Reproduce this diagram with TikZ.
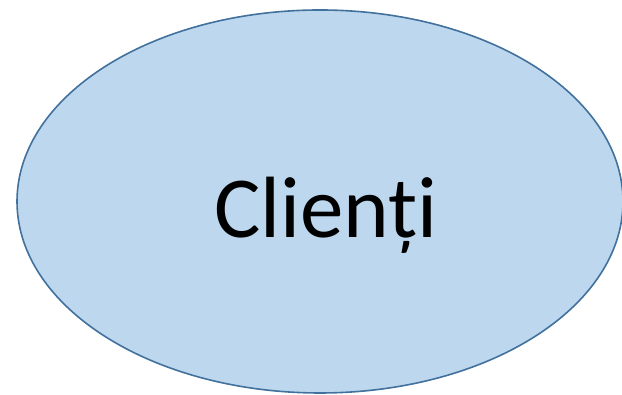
\documentclass[tikz,border=0pt]{standalone}
\usepackage{fontspec}
\setmainfont{Carlito}
\usetikzlibrary{shapes.geometric}
\definecolor{ovalfill}{RGB}{189,215,238}
\definecolor{ovaledge}{RGB}{65,113,156}

\begin{document}
\begin{tikzpicture}[x=1pt, y=1pt, oval/.style={draw=ovaledge, line width=1.6pt, ellipse, fill=ovalfill, inner sep=0pt}]
    \useasboundingbox (0,0) rectangle (622,395);
    
    \node (clienti) [oval, minimum width=606pt, minimum height=383pt] at (320,193.5) {};
    \node (clientilabel) [anchor=base, inner sep=0pt] at (326,157) {\fontsize{87}{100}\selectfont Clienți};
    
\end{tikzpicture}
\end{document}
